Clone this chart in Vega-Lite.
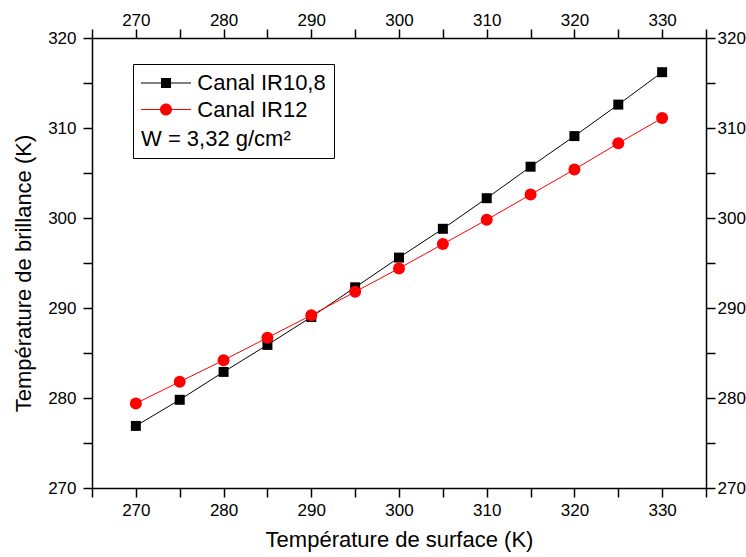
{
  "$schema": "https://vega.github.io/schema/vega-lite/v6.json",
  "width": 614,
  "height": 450,
  "autosize": {"type": "none"},
  "padding": {"left": 92, "top": 38, "right": 40, "bottom": 69},
  "background": "white",
  "config": {
    "view": {"stroke": null},
    "font": "Liberation Sans",
    "axis": {
      "grid": false,
      "domainColor": "black",
      "domainWidth": 1.5,
      "tickColor": "black",
      "tickWidth": 1.5,
      "tickSize": 9,
      "labelColor": "black",
      "labelFont": "Liberation Sans",
      "labelFontSize": 17,
      "titleFont": "Liberation Sans",
      "titleFontSize": 22,
      "titleFontWeight": "normal",
      "titleColor": "black"
    }
  },
  "data": {
    "values": [
      {"T": 270, "serie": "Canal IR10,8", "Tb": 276.9},
      {"T": 275, "serie": "Canal IR10,8", "Tb": 279.8},
      {"T": 280, "serie": "Canal IR10,8", "Tb": 282.9},
      {"T": 285, "serie": "Canal IR10,8", "Tb": 285.9},
      {"T": 290, "serie": "Canal IR10,8", "Tb": 289.0},
      {"T": 295, "serie": "Canal IR10,8", "Tb": 292.3},
      {"T": 300, "serie": "Canal IR10,8", "Tb": 295.6},
      {"T": 305, "serie": "Canal IR10,8", "Tb": 298.8},
      {"T": 310, "serie": "Canal IR10,8", "Tb": 302.2},
      {"T": 315, "serie": "Canal IR10,8", "Tb": 305.7},
      {"T": 320, "serie": "Canal IR10,8", "Tb": 309.1},
      {"T": 325, "serie": "Canal IR10,8", "Tb": 312.6},
      {"T": 330, "serie": "Canal IR10,8", "Tb": 316.2},
      {"T": 270, "serie": "Canal IR12", "Tb": 279.4},
      {"T": 275, "serie": "Canal IR12", "Tb": 281.8},
      {"T": 280, "serie": "Canal IR12", "Tb": 284.2},
      {"T": 285, "serie": "Canal IR12", "Tb": 286.7},
      {"T": 290, "serie": "Canal IR12", "Tb": 289.2},
      {"T": 295, "serie": "Canal IR12", "Tb": 291.8},
      {"T": 300, "serie": "Canal IR12", "Tb": 294.4},
      {"T": 305, "serie": "Canal IR12", "Tb": 297.1},
      {"T": 310, "serie": "Canal IR12", "Tb": 299.8},
      {"T": 315, "serie": "Canal IR12", "Tb": 302.6},
      {"T": 320, "serie": "Canal IR12", "Tb": 305.4},
      {"T": 325, "serie": "Canal IR12", "Tb": 308.3},
      {"T": 330, "serie": "Canal IR12", "Tb": 311.1}
    ]
  },
  "layer": [
    {
      "transform": [{"filter": "datum.serie === 'Canal IR10,8'"}],
      "encoding": {
        "x": {
          "field": "T", "type": "quantitative",
          "scale": {"domain": [265, 335], "nice": false, "zero": false},
          "axis": {
            "orient": "bottom",
            "title": "Température de surface (K)",
            "values": [265, 270, 275, 280, 285, 290, 295, 300, 305, 310, 315, 320, 325, 330, 335],
            "labelExpr": "datum.value % 10 === 0 && datum.value > 265 && datum.value < 335 ? datum.label : ''",
            "labelPadding": 5,
            "titlePadding": 11,
            "encode": {"ticks": {"update": {"y2": {"signal": "datum.value % 10 === 0 ? 9 : 5"}}}}
          }
        },
        "y": {
          "field": "Tb", "type": "quantitative",
          "scale": {"domain": [270, 320], "nice": false, "zero": false},
          "axis": {
            "orient": "left",
            "title": "Température de brillance (K)",
            "values": [270, 275, 280, 285, 290, 295, 300, 305, 310, 315, 320],
            "labelExpr": "datum.value % 10 === 0 ? datum.label : ''",
            "labelPadding": 7,
            "titlePadding": 12,
            "titleY": 235,
            "encode": {"ticks": {"update": {"x2": {"signal": "datum.value % 10 === 0 ? -9 : -5"}}}}
          }
        }
      },
      "layer": [
        {"mark": {"type": "line", "color": "black", "strokeWidth": 1}},
        {"mark": {"type": "point", "shape": "square", "filled": true, "color": "black", "size": 100, "opacity": 1}}
      ]
    },
    {
      "transform": [{"filter": "datum.serie === 'Canal IR12'"}],
      "encoding": {
        "x": {
          "field": "T", "type": "quantitative",
          "scale": {"domain": [265, 335], "nice": false, "zero": false},
          "axis": {
            "orient": "top",
            "title": null,
            "values": [265, 270, 275, 280, 285, 290, 295, 300, 305, 310, 315, 320, 325, 330, 335],
            "labelExpr": "datum.value % 10 === 0 && datum.value > 265 && datum.value < 335 ? datum.label : ''",
            "labelPadding": 0,
            "encode": {"ticks": {"update": {"y2": {"signal": "datum.value % 10 === 0 ? 9 : 5"}}}}
          }
        },
        "y": {
          "field": "Tb", "type": "quantitative",
          "scale": {"domain": [270, 320], "nice": false, "zero": false},
          "axis": {
            "orient": "right",
            "title": null,
            "values": [270, 275, 280, 285, 290, 295, 300, 305, 310, 315, 320],
            "labelExpr": "datum.value % 10 === 0 ? datum.label : ''",
            "labelPadding": 2,
            "encode": {"ticks": {"update": {"x2": {"signal": "datum.value % 10 === 0 ? -9 : -5"}}}}
          }
        }
      },
      "layer": [
        {"mark": {"type": "line", "color": "#ff0000", "strokeWidth": 1}},
        {"mark": {"type": "point", "shape": "circle", "filled": true, "color": "#ff0000", "size": 144, "opacity": 1}}
      ]
    },
    {
      "mark": {"type": "point", "filled": true, "opacity": 0},
      "encoding": {
        "color": {
          "field": "serie", "type": "nominal",
          "scale": {"domain": ["Canal IR10,8", "Canal IR12"], "range": ["black", "#ff0000"]},
          "legend": {
            "orient": "none",
            "legendX": 41,
            "legendY": 26,
            "title": "W = 3,32 g/cm²",
            "titleOrient": "bottom",
            "titleAnchor": "start",
            "titleFont": "Liberation Sans",
            "titleFontSize": 22,
            "titleFontWeight": "normal",
            "titleColor": "black",
            "titlePadding": 7.5,
            "labelFont": "Liberation Sans",
            "labelFontSize": 22,
            "labelColor": "black",
            "labelOffset": 20.3,
            "labelLimit": 300,
            "symbolSize": 458,
            "symbolOffset": 14,
            "symbolOpacity": 1,
            "symbolStrokeWidth": 0,
            "rowPadding": 4.6,
            "padding": 8,
            "strokeColor": "black",
            "fillColor": "white",
            "cornerRadius": 0,
            "encode": {
              "symbols": {
                "update": {
                  "opacity": {"value": 1},
                  "fillOpacity": {"value": 1},
                  "fill": {"scale": "color", "field": "value"}
                }
              }
            }
          }
        },
        "shape": {
          "field": "serie", "type": "nominal",
          "scale": {
            "domain": ["Canal IR10,8", "Canal IR12"],
            "range": [
              "M-2.34,-0.047H-0.467V-0.467H0.467V-0.047H2.34V0.047H0.467V0.467H-0.467V0.047H-2.34Z",
              "M-2.34,-0.047H-0.559A0.561,0.561 0 0,1 0.559,-0.047H2.34V0.047H0.559A0.561,0.561 0 0,1 -0.559,0.047H-2.34Z"
            ]
          }
        }
      }
    }
  ],
  "resolve": {"scale": {"x": "independent", "y": "independent"}}
}
